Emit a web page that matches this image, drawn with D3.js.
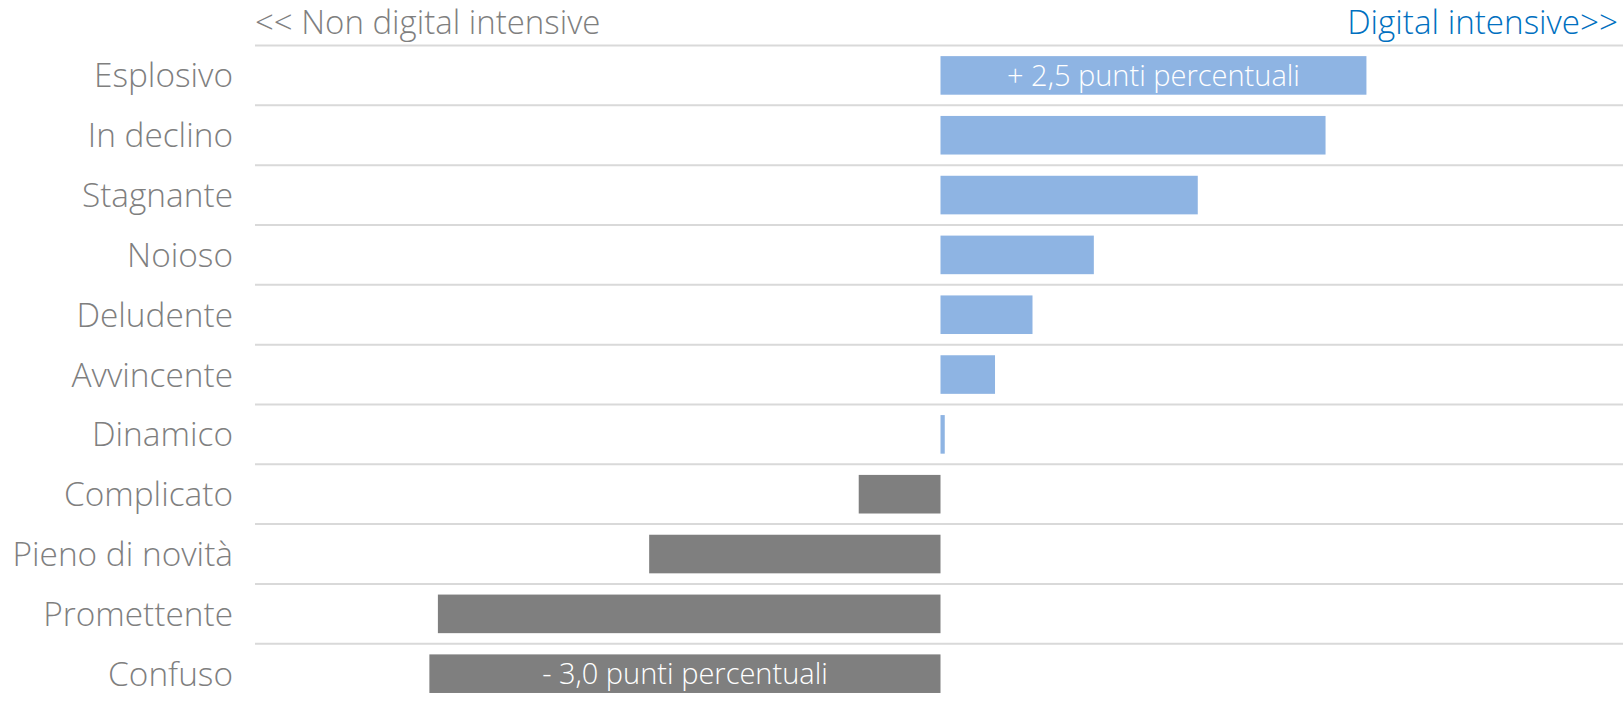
<!DOCTYPE html>
<html>
<head>
<meta charset="utf-8">
<script src="https://cdn.jsdelivr.net/npm/d3@7"></script>
<style>
  html, body { margin: 0; padding: 0; background: #ffffff; }
  svg { display: block; }
  text { font-family: "Open Sans", Lato, sans-serif; font-weight: 300; }
</style>
</head>
<body>
<svg id="chart" width="1623" height="702"></svg>
<script>
// Differenza in punti percentuali tra imprese digital intensive e non digital intensive
const categories = [
  "Esplosivo", "In declino", "Stagnante", "Noioso", "Deludente", "Avvincente",
  "Dinamico", "Complicato", "Pieno di novità", "Promettente", "Confuso"
];
const values = [2.5, 2.26, 1.51, 0.9, 0.54, 0.32, 0.025, -0.48, -1.71, -2.95, -3.0];
const valueLabels = { "Esplosivo": "+ 2,5 punti percentuali", "Confuso": "- 3,0 punti percentuali" };
const leftTitle = "<< Non digital intensive";
const rightTitle = "Digital intensive>>";
const xDomain = [-4, 4];

const plot = { left: 255, right: 1623, top: 45.5, bottom: 703.6 };

const svg = d3.select("#chart");

const x = d3.scaleLinear().domain(xDomain).range([259, 1622]);
const y = d3.scaleBand().domain(categories)
  .range([plot.top, plot.bottom])
  .paddingInner(0.355).paddingOuter(0.1775);

// horizontal separators between categories
const step = y.step();
const gridYs = d3.range(categories.length).map(i => plot.top + i * step);
svg.append("g").selectAll("line").data(gridYs).join("line")
  .attr("x1", plot.left).attr("x2", plot.right)
  .attr("y1", d => d).attr("y2", d => d)
  .attr("stroke", "#d9d9d9").attr("stroke-width", 2);

// bars
svg.append("g").selectAll("rect").data(categories).join("rect")
  .attr("x", (c, i) => x(Math.min(0, values[i])))
  .attr("width", (c, i) => Math.abs(x(values[i]) - x(0)))
  .attr("y", c => y(c))
  .attr("height", y.bandwidth())
  .attr("fill", (c, i) => values[i] >= 0 ? "#8eb4e3" : "#7f7f7f");

// value labels inside the extreme bars
svg.append("g").selectAll("text").data(categories.filter(c => valueLabels[c])).join("text")
  .attr("x", c => { const v = values[categories.indexOf(c)]; return (x(v) + x(0)) / 2; })
  .attr("y", c => y(c) + y.bandwidth() / 2)
  .attr("dy", "0.36em")
  .attr("text-anchor", "middle")
  .attr("fill", "#ffffff")
  .attr("font-size", 29)
  .text(c => valueLabels[c]);

// category labels
svg.append("g").selectAll("text").data(categories).join("text")
  .attr("x", 233)
  .attr("y", c => y(c) + y.bandwidth() / 2)
  .attr("dy", "0.36em")
  .attr("text-anchor", "end")
  .attr("fill", "#7f7f7f")
  .attr("font-size", 33.4)
  .text(c => c);

// direction titles
svg.append("text")
  .attr("x", plot.left).attr("y", 34)
  .attr("fill", "#7f7f7f").attr("font-size", 33)
  .text(leftTitle);
svg.append("text")
  .attr("x", 1618).attr("y", 34)
  .attr("text-anchor", "end")
  .attr("fill", "#0070c0").attr("font-size", 33.2)
  .text(rightTitle);
</script>
</body>
</html>
